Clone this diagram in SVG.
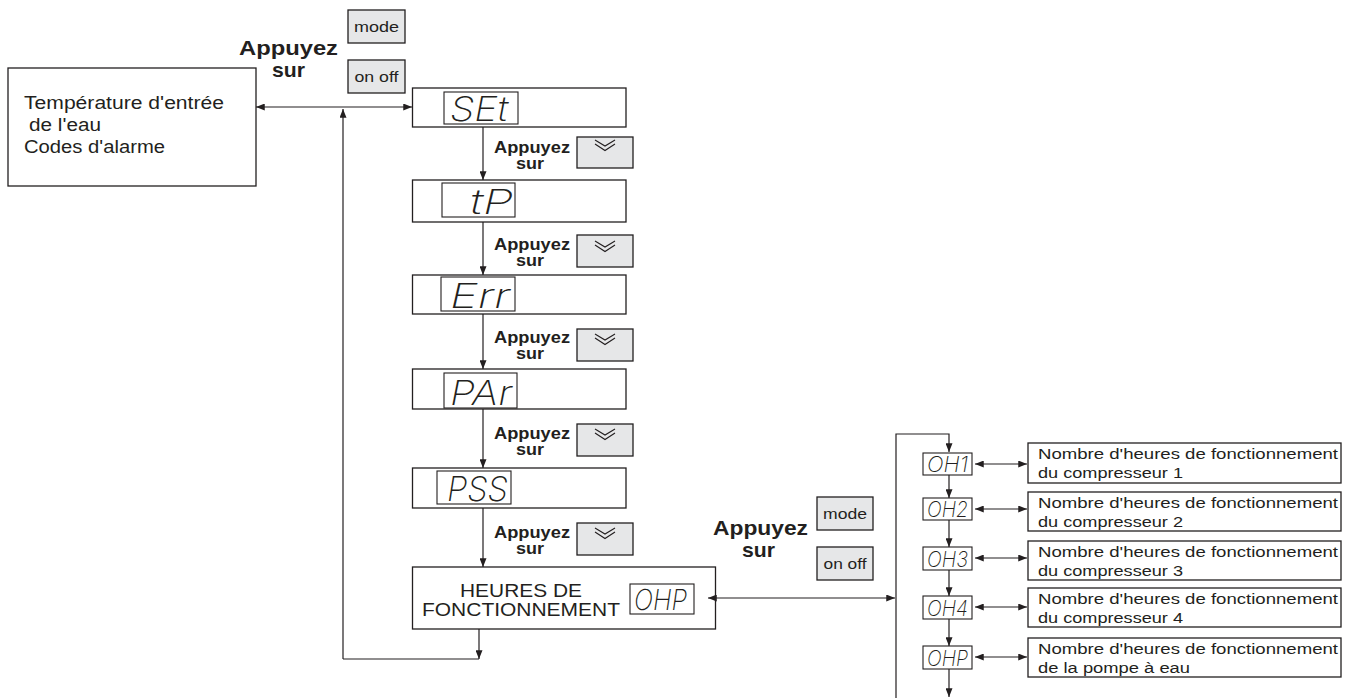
<svg xmlns="http://www.w3.org/2000/svg" width="1354" height="698" viewBox="0 0 1354 698">
<style>
.bg{fill:#ffffff}
.box{fill:#ffffff;stroke:#231f20;stroke-width:1.3}
.disp{fill:#ffffff;stroke:#231f20;stroke-width:1.1}
.btn{fill:#e6e7e8;stroke:#231f20;stroke-width:1.3}
.ln{fill:none;stroke:#231f20;stroke-width:1.2}
.chev{fill:none;stroke:#231f20;stroke-width:1.1}
text{font-family:"Liberation Sans",Arial,sans-serif;fill:#231f20}
.t17{font-size:17.5px}
.t15{font-size:15.5px}
.t18{font-size:18px}
.bt{font-size:15px}
.ab{font-size:20.5px;font-weight:bold}
.as{font-size:16px;font-weight:bold}
.seg{font-family:Inter,"DejaVu Sans",sans-serif;font-weight:200;font-style:italic}
</style>
<defs>
<marker id="ah" viewBox="0 0 10 8" refX="10" refY="4" markerWidth="9" markerHeight="7" markerUnits="userSpaceOnUse" orient="auto-start-reverse">
<path d="M0,0 L10,4 L0,8 z" fill="#231f20"/>
</marker>
<g id="chev">
<polyline class="chev" points="-10,-6 0,0 10,-6"/>
<polyline class="chev" points="-10,-2 0,4.5 10,-2"/>
</g>
</defs>
<rect class="bg" x="0" y="0" width="1354" height="698"/>

<g id="node-status">
<rect class="box" x="8" y="68" width="248" height="118"/>
<text class="t17" x="24" y="109" textLength="200" lengthAdjust="spacingAndGlyphs">Température d'entrée</text>
<text class="t17" x="29" y="131" textLength="72" lengthAdjust="spacingAndGlyphs">de l'eau</text>
<text class="t17" x="24" y="153" textLength="141" lengthAdjust="spacingAndGlyphs">Codes d'alarme</text>
</g>

<g id="press-top">
<text class="ab" x="239" y="55" textLength="99" lengthAdjust="spacingAndGlyphs">Appuyez</text>
<text class="ab" x="272" y="77" textLength="33" lengthAdjust="spacingAndGlyphs">sur</text>
<rect class="btn" x="348" y="10" width="57" height="33"/>
<text class="bt" x="376.5" y="32" text-anchor="middle" textLength="45" lengthAdjust="spacingAndGlyphs">mode</text>
<rect class="btn" x="348" y="60" width="57" height="33"/>
<text class="bt" x="376.5" y="82" text-anchor="middle" textLength="44" lengthAdjust="spacingAndGlyphs">on off</text>
</g>

<g id="node-set">
<rect class="box" x="412.5" y="88" width="213.5" height="39"/>
<rect class="disp" x="444" y="92" width="74" height="32"/>
<text class="seg" x="450" y="121" font-size="34" textLength="58" lengthAdjust="spacingAndGlyphs">SEt</text>
</g>
<g id="node-tp">
<rect class="box" x="412.5" y="180" width="213.5" height="42"/>
<rect class="disp" x="442" y="183" width="73" height="34"/>
<text class="seg" x="470" y="214" font-size="34" textLength="43" lengthAdjust="spacingAndGlyphs">tP</text>
</g>
<g id="node-err">
<rect class="box" x="412.5" y="275" width="213.5" height="39"/>
<rect class="disp" x="441" y="277" width="74" height="34"/>
<text class="seg" x="450" y="308" font-size="34" textLength="60" lengthAdjust="spacingAndGlyphs">Err</text>
</g>
<g id="node-par">
<rect class="box" x="412.5" y="369" width="213.5" height="40"/>
<rect class="disp" x="444" y="373" width="73" height="35"/>
<text class="seg" x="450" y="405" font-size="34" textLength="62" lengthAdjust="spacingAndGlyphs">PAr</text>
</g>
<g id="node-pss">
<rect class="box" x="412.5" y="468" width="213.5" height="40"/>
<rect class="disp" x="437" y="471" width="74" height="33"/>
<text class="seg" x="447" y="501" font-size="34" textLength="61" lengthAdjust="spacingAndGlyphs">PSS</text>
</g>
<g id="node-ohp">
<rect class="box" x="412.5" y="567" width="303" height="62"/>
<text class="t18" x="521" y="597" text-anchor="middle" textLength="122" lengthAdjust="spacingAndGlyphs">HEURES DE</text>
<text class="t18" x="521" y="616" text-anchor="middle" textLength="198" lengthAdjust="spacingAndGlyphs">FONCTIONNEMENT</text>
<rect class="disp" x="630" y="584" width="64" height="30"/>
<text class="seg" x="634" y="610" font-size="29" textLength="53" lengthAdjust="spacingAndGlyphs">OHP</text>
</g>

<g id="press-1">
<text class="as" x="494" y="153" textLength="76" lengthAdjust="spacingAndGlyphs">Appuyez</text>
<text class="as" x="530" y="169" text-anchor="middle" textLength="28" lengthAdjust="spacingAndGlyphs">sur</text>
<rect class="btn" x="577" y="137" width="56" height="31"/>
<use href="#chev" x="605" y="146"/>
</g>
<g id="press-2">
<text class="as" x="494" y="250" textLength="76" lengthAdjust="spacingAndGlyphs">Appuyez</text>
<text class="as" x="530" y="266" text-anchor="middle" textLength="28" lengthAdjust="spacingAndGlyphs">sur</text>
<rect class="btn" x="577" y="235" width="56" height="32"/>
<use href="#chev" x="605" y="247"/>
</g>
<g id="press-3">
<text class="as" x="494" y="343" textLength="76" lengthAdjust="spacingAndGlyphs">Appuyez</text>
<text class="as" x="530" y="359" text-anchor="middle" textLength="28" lengthAdjust="spacingAndGlyphs">sur</text>
<rect class="btn" x="577" y="329" width="56" height="32"/>
<use href="#chev" x="605" y="340"/>
</g>
<g id="press-4">
<text class="as" x="494" y="439" textLength="76" lengthAdjust="spacingAndGlyphs">Appuyez</text>
<text class="as" x="530" y="455" text-anchor="middle" textLength="28" lengthAdjust="spacingAndGlyphs">sur</text>
<rect class="btn" x="577" y="424" width="56" height="32"/>
<use href="#chev" x="605" y="435"/>
</g>
<g id="press-5">
<text class="as" x="494" y="538" textLength="76" lengthAdjust="spacingAndGlyphs">Appuyez</text>
<text class="as" x="530" y="554" text-anchor="middle" textLength="28" lengthAdjust="spacingAndGlyphs">sur</text>
<rect class="btn" x="577" y="523" width="56" height="32"/>
<use href="#chev" x="605" y="534"/>
</g>

<g id="press-mid">
<text class="ab" x="713" y="535" textLength="95" lengthAdjust="spacingAndGlyphs">Appuyez</text>
<text class="ab" x="742" y="557" textLength="33" lengthAdjust="spacingAndGlyphs">sur</text>
<rect class="btn" x="817" y="497" width="56" height="33"/>
<text class="bt" x="845" y="519" text-anchor="middle" textLength="44" lengthAdjust="spacingAndGlyphs">mode</text>
<rect class="btn" x="817" y="547" width="56" height="33"/>
<text class="bt" x="845" y="569" text-anchor="middle" textLength="43" lengthAdjust="spacingAndGlyphs">on off</text>
</g>

<g id="node-oh1">
<rect class="disp" x="923" y="453" width="49" height="22"/>
<text class="seg" x="927" y="472" font-size="22" textLength="41" lengthAdjust="spacingAndGlyphs">OH1</text>
<rect class="box" x="1028" y="443" width="313" height="40"/>
<text class="t15" x="1038" y="459" textLength="300" lengthAdjust="spacingAndGlyphs">Nombre d'heures de fonctionnement</text>
<text class="t15" x="1038" y="478" textLength="145" lengthAdjust="spacingAndGlyphs">du compresseur 1</text>
</g>
<g id="node-oh2">
<rect class="disp" x="923" y="498" width="49" height="22"/>
<text class="seg" x="927" y="517" font-size="22" textLength="41" lengthAdjust="spacingAndGlyphs">OH2</text>
<rect class="box" x="1028" y="492" width="313" height="39"/>
<text class="t15" x="1038" y="508" textLength="300" lengthAdjust="spacingAndGlyphs">Nombre d'heures de fonctionnement</text>
<text class="t15" x="1038" y="527" textLength="145" lengthAdjust="spacingAndGlyphs">du compresseur 2</text>
</g>
<g id="node-oh3">
<rect class="disp" x="923" y="547" width="49" height="23"/>
<text class="seg" x="927" y="567" font-size="22" textLength="41" lengthAdjust="spacingAndGlyphs">OH3</text>
<rect class="box" x="1028" y="541" width="313" height="39"/>
<text class="t15" x="1038" y="557" textLength="300" lengthAdjust="spacingAndGlyphs">Nombre d'heures de fonctionnement</text>
<text class="t15" x="1038" y="576" textLength="145" lengthAdjust="spacingAndGlyphs">du compresseur 3</text>
</g>
<g id="node-oh4">
<rect class="disp" x="923" y="596" width="49" height="23"/>
<text class="seg" x="927" y="616" font-size="22" textLength="41" lengthAdjust="spacingAndGlyphs">OH4</text>
<rect class="box" x="1028" y="588" width="313" height="39"/>
<text class="t15" x="1038" y="604" textLength="300" lengthAdjust="spacingAndGlyphs">Nombre d'heures de fonctionnement</text>
<text class="t15" x="1038" y="623" textLength="145" lengthAdjust="spacingAndGlyphs">du compresseur 4</text>
</g>
<g id="node-ohp-pump">
<rect class="disp" x="923" y="646" width="49" height="23"/>
<text class="seg" x="927" y="666" font-size="22" textLength="41" lengthAdjust="spacingAndGlyphs">OHP</text>
<rect class="box" x="1028" y="638" width="313" height="39"/>
<text class="t15" x="1038" y="654" textLength="300" lengthAdjust="spacingAndGlyphs">Nombre d'heures de fonctionnement</text>
<text class="t15" x="1038" y="673" textLength="152" lengthAdjust="spacingAndGlyphs">de la pompe à eau</text>
</g>

<g id="connectors">
<line class="ln" x1="256" y1="107" x2="412" y2="107" marker-start="url(#ah)" marker-end="url(#ah)"/>
<line class="ln" x1="343" y1="659" x2="343" y2="109" marker-end="url(#ah)"/>
<line class="ln" x1="343" y1="659" x2="479" y2="659"/>
<line class="ln" x1="479" y1="629" x2="479" y2="659" marker-end="url(#ah)"/>
<line class="ln" x1="483" y1="127" x2="483" y2="180" marker-end="url(#ah)"/>
<line class="ln" x1="483" y1="222" x2="483" y2="275" marker-end="url(#ah)"/>
<line class="ln" x1="483" y1="314" x2="483" y2="369" marker-end="url(#ah)"/>
<line class="ln" x1="483" y1="409" x2="483" y2="468" marker-end="url(#ah)"/>
<line class="ln" x1="483" y1="508" x2="483" y2="567" marker-end="url(#ah)"/>
<line class="ln" x1="708" y1="598" x2="895" y2="598" marker-start="url(#ah)" marker-end="url(#ah)"/>
<polyline class="ln" points="896,698 896,434 949,434 949,452" marker-end="url(#ah)"/>
<line class="ln" x1="949" y1="475" x2="949" y2="498" marker-end="url(#ah)"/>
<line class="ln" x1="949" y1="520" x2="949" y2="547" marker-end="url(#ah)"/>
<line class="ln" x1="949" y1="570" x2="949" y2="596" marker-end="url(#ah)"/>
<line class="ln" x1="949" y1="619" x2="949" y2="646" marker-end="url(#ah)"/>
<line class="ln" x1="949" y1="669" x2="949" y2="697" marker-end="url(#ah)"/>
<line class="ln" x1="975" y1="464" x2="1027" y2="464" marker-start="url(#ah)" marker-end="url(#ah)"/>
<line class="ln" x1="975" y1="509" x2="1027" y2="509" marker-start="url(#ah)" marker-end="url(#ah)"/>
<line class="ln" x1="975" y1="558" x2="1027" y2="558" marker-start="url(#ah)" marker-end="url(#ah)"/>
<line class="ln" x1="975" y1="607" x2="1027" y2="607" marker-start="url(#ah)" marker-end="url(#ah)"/>
<line class="ln" x1="975" y1="657" x2="1027" y2="657" marker-start="url(#ah)" marker-end="url(#ah)"/>
</g>
</svg>
